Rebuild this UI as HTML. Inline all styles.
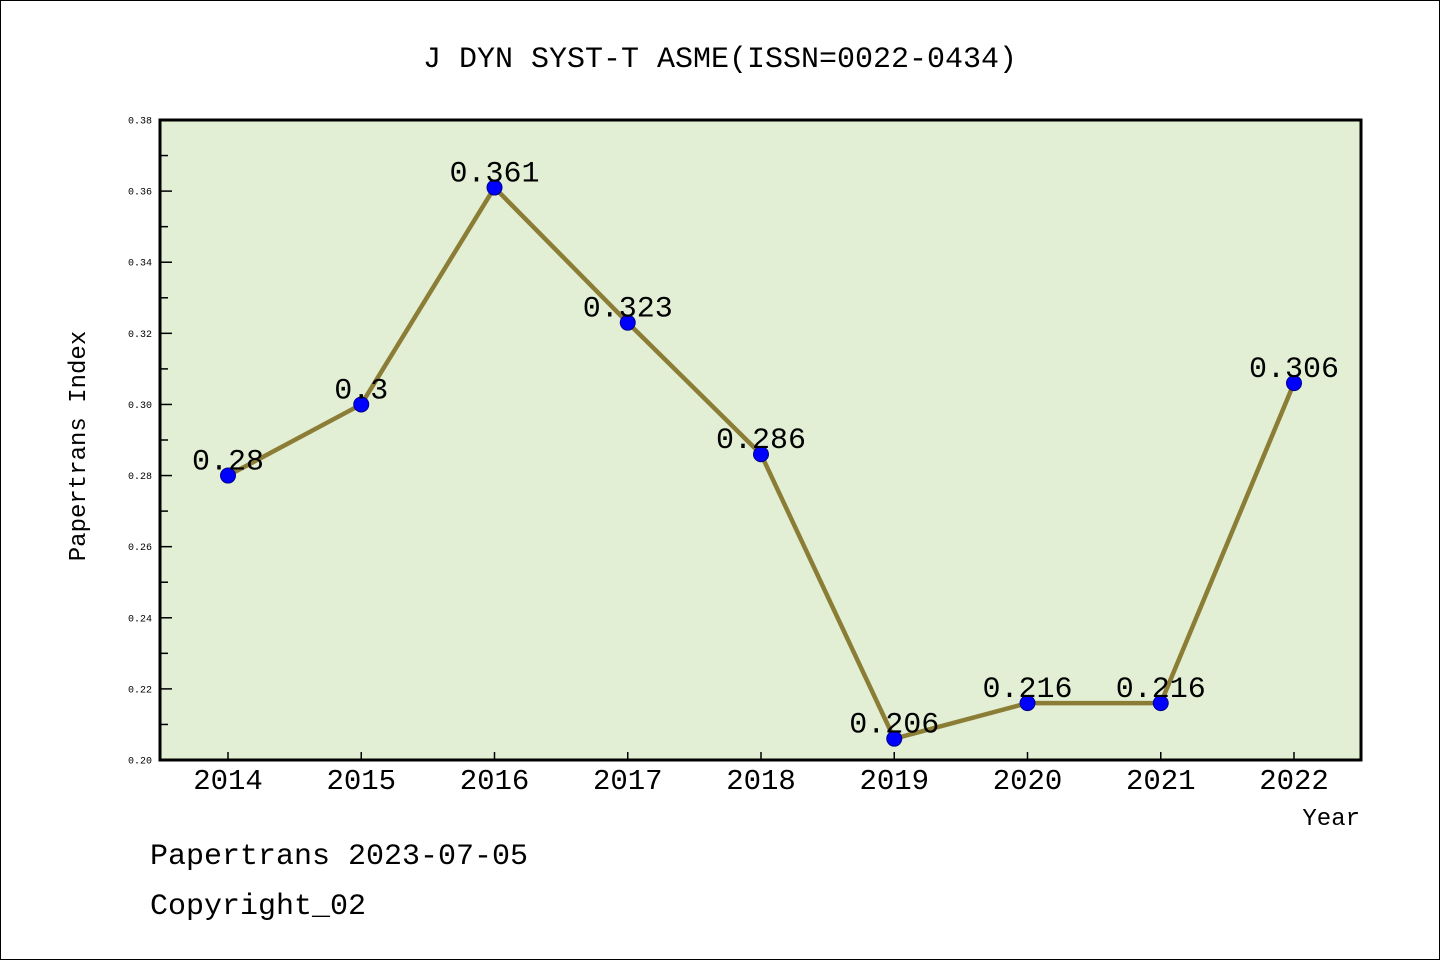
<!DOCTYPE html>
<html><head><meta charset="utf-8"><style>
body{margin:0;background:#fff}
svg{display:block}
text{font-family:"Liberation Mono","DejaVu Sans Mono",monospace}
</style></head><body>
<svg id="chart" width="1440" height="960">
<rect x="0.5" y="0.5" width="1439" height="959" fill="#fff" stroke="#000"/>
<text x="720" y="67" text-anchor="middle" font-size="30">J DYN SYST-T ASME(ISSN=0022-0434)</text>
<rect x="160" y="120" width="1201" height="640" fill="#e2efd5"/>
<g id="axes"></g>
<g id="series"></g>
<rect x="160" y="120" width="1201" height="640" fill="none" stroke="#000" stroke-width="3"/>
<text x="85" y="446" text-anchor="middle" font-size="24" transform="rotate(-90 85 446)">Papertrans Index</text>
<text x="1360" y="825" text-anchor="end" font-size="24">Year</text>
<text x="150" y="864" font-size="30">Papertrans 2023-07-05</text>
<text x="150" y="914" font-size="30">Copyright_02</text>
</svg>
<script>
const years=[2014,2015,2016,2017,2018,2019,2020,2021,2022];
const values=[0.28,0.3,0.361,0.323,0.286,0.206,0.216,0.216,0.306];
const labels=["0.28","0.3","0.361","0.323","0.286","0.206","0.216","0.216","0.306"];
const yTicks=[0.20,0.22,0.24,0.26,0.28,0.30,0.32,0.34,0.36,0.38];
const NS="http://www.w3.org/2000/svg";
const X=i=>228+i*(1294-228)/8;
const Y=v=>760-(v-0.20)/(0.18)*640;
function mk(t,a,p){const e=document.createElementNS(NS,t);for(const k in a)e.setAttribute(k,a[k]);p.appendChild(e);return e;}
const ax=document.getElementById('axes');
yTicks.forEach((v,i)=>{
 const t=mk('line',{x1:160,x2:172,y1:Y(v),y2:Y(v),stroke:'#000','stroke-width':1.5},ax);
 
 
 const l=mk('text',{x:152,y:Y(v)+3.5,'text-anchor':'end','font-size':10,'font-family':'DejaVu Sans, sans-serif'},ax);
 l.textContent=v.toFixed(2);
 
 
 if(i<yTicks.length-1){
  const m=mk('line',{x1:160,x2:168,y1:Y(v+0.01),y2:Y(v+0.01),stroke:'#000','stroke-width':1.5},ax);
  
  
 }
});
years.forEach((yr,i)=>{
 const t=mk('line',{x1:X(i),x2:X(i),y1:760,y2:752,stroke:'#000','stroke-width':1.5},ax);
 
 
 const l=mk('text',{x:X(i),y:789,'text-anchor':'middle','font-size':29,'font-family':'Liberation Sans, sans-serif'},ax);
 l.textContent=yr;
 
 
});
const s=document.getElementById('series');
const line=mk('polyline',{points:values.map((v,i)=>X(i)+','+Y(v)).join(' '),fill:'none',stroke:'#8b7d35','stroke-width':4.5,'stroke-linejoin':'round'},s);


values.forEach((v,i)=>{
 const c=mk('circle',{cx:X(i),cy:Y(v),r:7.5,fill:'#0000ff',stroke:'#00008b','stroke-width':1},s);
 
 
 const l=mk('text',{x:X(i),y:Y(v)-6,'text-anchor':'middle','font-size':30},s);
 l.textContent=labels[i];
 
 
});
</script>
</body></html>
